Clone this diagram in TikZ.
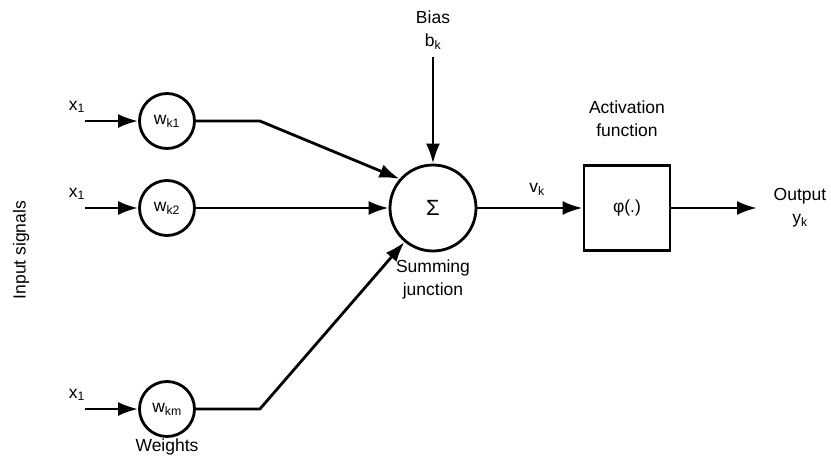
\documentclass[tikz,border=0pt]{standalone}
\usepackage{fontspec}
\setmainfont{Liberation Sans}
\usetikzlibrary{arrows.meta}
\tikzstyle{arrow} = [-{Latex[length=20pt,width=14pt]}]
\tikzstyle{weight} = [draw, circle, minimum size=55pt, inner sep=0pt]
\tikzstyle{summer} = [draw, circle, minimum size=86pt, inner sep=0pt]
\tikzstyle{actbox} = [draw, minimum width=86pt, minimum height=85pt]
\tikzstyle{txt} = [align=center]

\begin{document}
\begin{tikzpicture}[x=1pt, y=1pt, line width=2.8pt, font=\fontsize{17.5}{23}\selectfont]
		\useasboundingbox (0,0) rectangle (831,-461);
		\node (sum) [summer, font=\fontsize{22}{26}\selectfont] at (433,-208) {Σ};
		\node (wk2) [weight, node distance=266pt, left of=sum] {w\textsubscript{k2}};
		\node (wk1) [weight, node distance=87pt, above of=wk2] {w\textsubscript{k1}};
		\node (wkm) [weight, node distance=201pt, below of=wk2] {w\textsubscript{km}};
		\node (in1) [coordinate, node distance=82pt, left of=wk1] {};
		\node (in2) [coordinate, node distance=82pt, left of=wk2] {};
		\node (inm) [coordinate, node distance=82pt, left of=wkm] {};
		\node (x1) [node distance=14pt, above of=in1, xshift=-8pt] {x\textsubscript{1}};
		\node (x2) [node distance=14pt, above of=in2, xshift=-8pt] {x\textsubscript{1}};
		\node (xm) [node distance=14pt, above of=inm, xshift=-8pt] {x\textsubscript{1}};
		\node (weights) [node distance=38pt, below of=wkm] {Weights};
		\node (insig) [rotate=90] at (21,-250) {Input signals};
		\node (bias) [txt, node distance=178pt, above of=sum, outer sep=4pt] {Bias\\b\textsubscript{k}};
		\node (junction) [txt, node distance=71pt, below of=sum] {Summing\\junction};
		\node (act) [actbox, node distance=194pt, right of=sum] {φ(.)};
		\node (actlabel) [txt, node distance=89pt, above of=act] {Activation\\function};
		\node (out) [coordinate, node distance=130pt, right of=act] {};
		\node (output) [txt, node distance=173pt, right of=act] {Output\\y\textsubscript{k}};
		
		\draw [arrow] (in1) -- (wk1);
		\draw [arrow] (in2) -- (wk2);
		\draw [arrow] (inm) -- (wkm);
		\draw [arrow] (wk1.east) -- ++(64,0) -- (sum.139);
		\draw [arrow] (wk2) -- (sum);
		\draw [arrow] (wkm.east) -- ++(64,0) -- (sum.230);
		\draw [arrow] (bias) -- (sum);
		\draw [arrow] (sum) -- node[above=8pt, xshift=7pt] {v\textsubscript{k}} (act);
		\draw [arrow] (act) -- (out);
	\end{tikzpicture}
\end{document}
